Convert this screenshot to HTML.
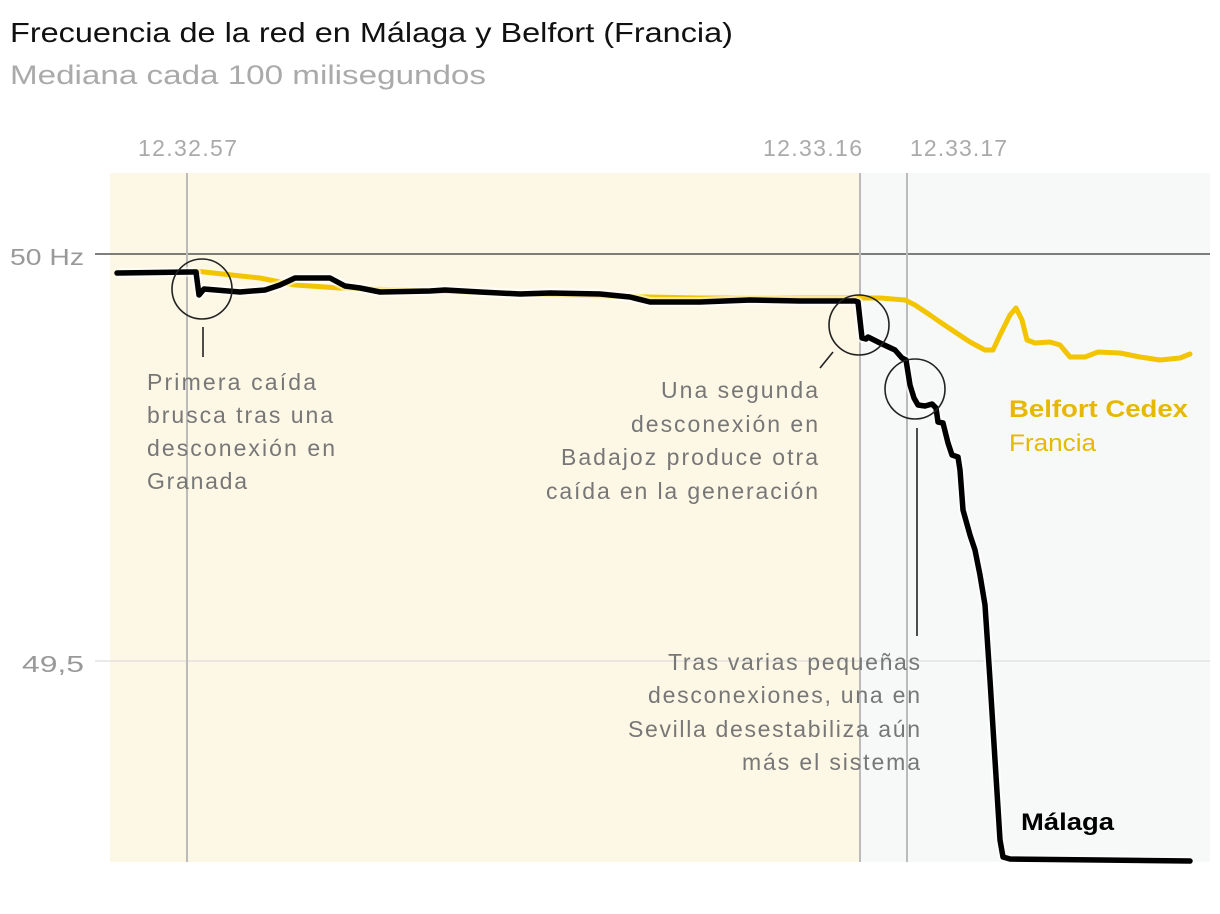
<!DOCTYPE html>
<html><head><meta charset="utf-8"><style>
body{margin:0;background:#fff;}
svg{display:block;font-family:"Liberation Sans",sans-serif;}
</style></head><body>
<svg width="1220" height="914" viewBox="0 0 1220 914">
<rect width="1220" height="914" fill="#fff"/>
<text x="10" y="42" font-size="28" fill="#111" textLength="723" lengthAdjust="spacingAndGlyphs">Frecuencia de la red en Málaga y Belfort (Francia)</text>
<text x="10" y="84" font-size="27" fill="#aaa" textLength="476" lengthAdjust="spacingAndGlyphs">Mediana cada 100 milisegundos</text>
<rect x="110" y="173" width="750" height="689" fill="#fdf7e6"/>
<rect x="860" y="173" width="350" height="689" fill="#f7f8f8"/>
<line x1="95" y1="254" x2="1210" y2="254" stroke="#333" stroke-width="1.3"/>
<line x1="95" y1="661" x2="1210" y2="661" stroke="#ddd" stroke-width="1.3"/>
<text x="10" y="265" font-size="23" fill="#999" textLength="74" lengthAdjust="spacingAndGlyphs">50 Hz</text>
<text x="22" y="672" font-size="23" fill="#999" textLength="62" lengthAdjust="spacingAndGlyphs">49,5</text>
<g stroke="#bbb" stroke-width="2"><line x1="187" y1="173" x2="187" y2="862"/><line x1="860" y1="173" x2="860" y2="862"/><line x1="907" y1="173" x2="907" y2="862"/></g>
<g font-size="23" fill="#aaa" lengthAdjust="spacingAndGlyphs"><text x="138" y="156" textLength="99">12.32.57</text><text x="763" y="156" textLength="99">12.33.16</text><text x="910" y="156" textLength="97">12.33.17</text></g>
<polyline fill="none" stroke="#f2c500" stroke-width="5" stroke-linejoin="round" stroke-linecap="round" points="195,271 260,278 295,285 340,288 400,290 500,293 600,296 700,298 800,298 860,298 880,298 905,300 915,305 930,315 940,322 955,332 970,342 985,350 993,350 1000,335 1010,315 1016,308 1022,320 1027,340 1035,343 1050,342 1060,345 1070,357 1085,357 1098,352 1120,353 1140,357 1160,360 1180,358 1190,354"/>
<polyline fill="none" stroke="#fff" stroke-width="10" stroke-linejoin="round" opacity="0.6" points="117,273 190,272 196,272 199,295 204,289 240,292 265,290 280,285 295,278 330,278 345,286 360,288 380,292 430,291 445,290 480,292 520,294 550,293 600,294 630,297 650,302 700,302 750,300 800,301 855,301 858,302 862,338 866,339 868,337 880,343 895,350 902,358 906,360 910,385 914,398 918,405 925,406 932,404 936,408 938,422 943,423 948,443 952,455 958,457 960,470 963,510 970,535 975,550 980,575 985,605 990,680 995,760 1000,840 1003,857 1010,859 1100,860 1190,861"/>
<polyline fill="none" stroke="#000" stroke-width="5.5" stroke-linejoin="round" stroke-linecap="round" points="117,273 190,272 196,272 199,295 204,289 240,292 265,290 280,285 295,278 330,278 345,286 360,288 380,292 430,291 445,290 480,292 520,294 550,293 600,294 630,297 650,302 700,302 750,300 800,301 855,301 858,302 862,338 866,339 868,337 880,343 895,350 902,358 906,360 910,385 914,398 918,405 925,406 932,404 936,408 938,422 943,423 948,443 952,455 958,457 960,470 963,510 970,535 975,550 980,575 985,605 990,680 995,760 1000,840 1003,857 1010,859 1100,860 1190,861"/>
<g fill="none" stroke="#222" stroke-width="1.6"><circle cx="202" cy="289" r="30"/><circle cx="859" cy="325" r="30"/><circle cx="915" cy="389" r="30"/>
<line x1="203" y1="327" x2="203" y2="357"/><line x1="833" y1="352" x2="820" y2="368"/><line x1="917" y1="428" x2="917" y2="636"/></g>
<g font-size="23" fill="#777" lengthAdjust="spacingAndGlyphs">
<text x="147" y="390" textLength="169">Primera caída</text><text x="147" y="423" textLength="186">brusca tras una</text><text x="147" y="456" textLength="188">desconexión en</text><text x="147" y="489" textLength="100">Granada</text>
<text x="661" y="398" textLength="157">Una segunda</text><text x="631" y="432" textLength="187">desconexión en</text><text x="561" y="465" textLength="257">Badajoz produce otra</text><text x="546" y="499" textLength="272">caída en la generación</text>
<text x="668" y="670" textLength="252">Tras varias pequeñas</text><text x="648" y="703" textLength="272">desconexiones, una en</text><text x="628" y="737" textLength="292">Sevilla desestabiliza aún</text><text x="742" y="770" textLength="178">más el sistema</text>
</g>
<text x="1009" y="417" font-size="24" font-weight="bold" fill="#e6b800" textLength="179" lengthAdjust="spacingAndGlyphs">Belfort Cedex</text>
<text x="1009" y="451" font-size="24" fill="#e6b800" textLength="87" lengthAdjust="spacingAndGlyphs">Francia</text>
<text x="1021" y="830" font-size="24" font-weight="bold" fill="#000" textLength="93" lengthAdjust="spacingAndGlyphs">Málaga</text>
</svg>
</body></html>
